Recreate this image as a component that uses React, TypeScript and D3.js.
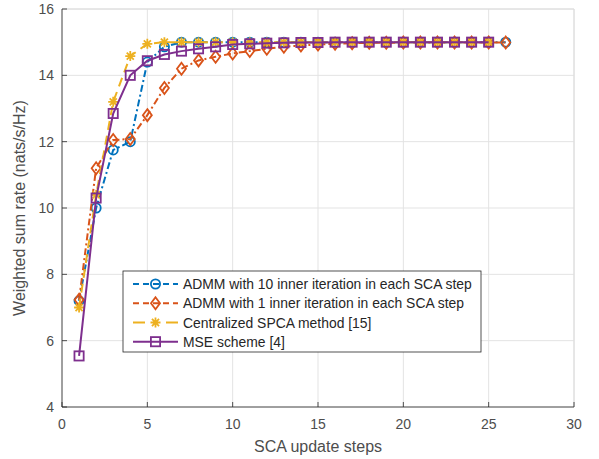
import React from "react";
import * as d3 from "d3";

const admm10X = [1,2,3,4,5,6,7,8,9,10,11,12,13,14,15,16,17,18,19,20,21,22,23,24,25,26];
const admm10Y = [7.2,10.0,11.75,12.0,14.4,14.86,15.0,15.0,15.0,15.0,15.0,15.0,15.0,15.0,15.0,15.0,15.0,15.0,15.0,15.0,15.0,15.0,15.0,15.0,15.0,15.0];
const admm1X = [1,2,3,4,5,6,7,8,9,10,11,12,13,14,15,16,17,18,19,20,21,22,23,24,25,26];
const admm1Y = [7.23,11.2,12.05,12.08,12.8,13.62,14.2,14.45,14.56,14.66,14.73,14.8,14.86,14.9,14.93,14.95,14.97,14.98,14.98,14.99,14.99,14.99,14.99,14.99,14.99,14.99];
const centX = [1,2,3,4,5,6,7,8,9,10,11,12,13,14,15,16,17,18,19,20,21,22,23,24,25];
const centY = [7.0,10.4,13.2,14.58,14.95,15.0,15.0,15.0,15.0,15.0,15.0,15.0,15.0,15.0,15.0,15.0,15.0,15.0,15.0,15.0,15.0,15.0,15.0,15.0,15.0];
const mseX = [1,2,3,4,5,6,7,8,9,10,11,12,13,14,15,16,17,18,19,20,21,22,23,24,25];
const mseY = [5.54,10.3,12.85,14.0,14.44,14.63,14.73,14.8,14.86,14.93,14.95,14.97,14.98,14.99,14.99,15.0,15.0,15.0,15.0,15.0,15.0,15.0,15.0,15.0,15.0];

const xTicks = [0,5,10,15,20,25,30];
const yTicks = [4,6,8,10,12,14,16];
const legendLabels = [
  "ADMM with 10 inner iteration in each SCA step",
  "ADMM with 1 inner iteration in each SCA step",
  "Centralized SPCA method [15]",
  "MSE scheme [4]",
];
const xLabel = "SCA update steps";
const yLabel = "Weighted sum rate (nats/s/Hz)";

const colors = ["#0072BD", "#D95319", "#EDB120", "#7E2F8E"];
const dashes = ["7,3,2,3", "7,3,2,3", "9,6", "none"];
const legendDashes = ["6,4", "6,4", "12,21,12", "none"];
const markers = ["circle", "diamond", "asterisk", "square"];

const L = 62, R = 574, T = 9, B = 407;
const font = "Liberation Sans, Arial, Helvetica, sans-serif";

function Marker({ type, x, y, color }: { type: string; x: number; y: number; color: string }) {
  const sw = 1.8;
  if (type === "circle") return <circle cx={x} cy={y} r={4.6} fill="none" stroke={color} strokeWidth={sw} />;
  if (type === "square") return <rect x={x - 4.6} y={y - 4.6} width={9.2} height={9.2} fill="none" stroke={color} strokeWidth={sw} />;
  if (type === "diamond") {
    const s = 6;
    return <path d={`M${x},${y - s}L${x + s * 0.75},${y}L${x},${y + s}L${x - s * 0.75},${y}Z`} fill="none" stroke={color} strokeWidth={sw} />;
  }
  const s = 5;
  const d = s * 0.707;
  return (
    <path
      d={`M${x - s},${y}L${x + s},${y}M${x},${y - s}L${x},${y + s}M${x - d},${y - d}L${x + d},${y + d}M${x - d},${y + d}L${x + d},${y - d}`}
      stroke={color}
      strokeWidth={sw}
    />
  );
}

export default function App() {
  const x = d3.scaleLinear().domain([0, 30]).range([L, R]);
  const y = d3.scaleLinear().domain([4, 16]).range([B, T]);
  const series = [
    { xs: admm10X, ys: admm10Y },
    { xs: admm1X, ys: admm1Y },
    { xs: centX, ys: centY },
    { xs: mseX, ys: mseY },
  ];
  const line = d3.line<[number, number]>().x((d) => x(d[0])).y((d) => y(d[1]));
  const legX = 123, legY = 271, legW = 358, legH = 81;
  const rowY = [284, 303.3, 322.5, 341.7];

  return (
    <svg width={599} height={459} style={{ position: "absolute", left: 0, top: 0 }} fontFamily={font}>
      <rect x={0} y={0} width={599} height={459} fill="white" />
      {xTicks.map((t) => (
        <line key={"gx" + t} x1={x(t)} x2={x(t)} y1={T} y2={B} stroke="#e3e3e3" strokeWidth={1} />
      ))}
      {yTicks.map((t) => (
        <line key={"gy" + t} x1={L} x2={R} y1={y(t)} y2={y(t)} stroke="#e3e3e3" strokeWidth={1} />
      ))}
      <line x1={L} x2={R} y1={T} y2={T} stroke="#dcdcdc" strokeWidth={1} />
      <line x1={R} x2={R} y1={T} y2={B} stroke="#dcdcdc" strokeWidth={1} />
      <line x1={L} x2={L} y1={T} y2={B} stroke="#262626" strokeWidth={0.8} />
      <line x1={L} x2={R} y1={B} y2={B} stroke="#262626" strokeWidth={0.8} />
      {xTicks.map((t) => (
        <g key={"tx" + t}>
          <line x1={x(t)} x2={x(t)} y1={B} y2={B - 5} stroke="#262626" strokeWidth={0.8} />
          <text x={x(t)} y={B + 22} textAnchor="middle" fontSize={14} fill="#4d4d4d">{t}</text>
        </g>
      ))}
      {yTicks.map((t) => (
        <g key={"ty" + t}>
          <line x1={L} x2={L + 5} y1={y(t)} y2={y(t)} stroke="#262626" strokeWidth={0.8} />
          <text x={L - 8} y={y(t) + 5} textAnchor="end" fontSize={14} fill="#4d4d4d">{t}</text>
        </g>
      ))}
      <text x={(L + R) / 2} y={452} textAnchor="middle" fontSize={16} fill="#4d4d4d">{xLabel}</text>
      <text transform={`translate(25,${(T + B) / 2}) rotate(-90)`} textAnchor="middle" fontSize={16} fill="#4d4d4d">{yLabel}</text>
      {series.map((s, i) => {
        const pts = s.xs.map((v, j) => [v, s.ys[j]] as [number, number]);
        return (
          <g key={"s" + i}>
            <path d={line(pts) || ""} fill="none" stroke={colors[i]} strokeWidth={2} strokeDasharray={dashes[i]} />
            {pts.map((p, j) => (
              <Marker key={j} type={markers[i]} x={x(p[0])} y={y(p[1])} color={colors[i]} />
            ))}
          </g>
        );
      })}
      <rect x={legX} y={legY} width={legW} height={legH} fill="white" stroke="#262626" strokeWidth={0.8} />
      {legendLabels.map((lab, i) => (
        <g key={"l" + i}>
          <line x1={133} x2={178} y1={rowY[i]} y2={rowY[i]} stroke={colors[i]} strokeWidth={2} strokeDasharray={legendDashes[i]} />
          <Marker type={markers[i]} x={155.5} y={rowY[i]} color={colors[i]} />
          <text x={183} y={rowY[i] + 5} fontSize={13.9} fill="#262626">{lab}</text>
        </g>
      ))}
    </svg>
  );
}
